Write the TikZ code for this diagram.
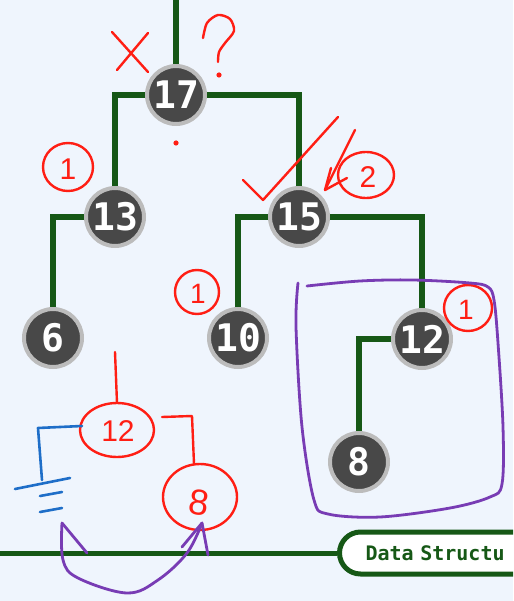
\documentclass[tikz,border=0pt]{standalone}
\usepackage{fontspec}
\setmainfont{Liberation Sans}
\newfontfamily\monofont{DejaVu Sans Mono}
\usetikzlibrary{calc}
\definecolor{bgcol}{RGB}{239,245,253}
\definecolor{treegreen}{RGB}{22,88,22}
\definecolor{nodegray}{RGB}{72,72,72}
\definecolor{rimgray}{RGB}{188,188,188}
\definecolor{inkred}{RGB}{255,30,20}
\definecolor{inkblue}{RGB}{30,110,200}
\definecolor{inkpurple}{RGB}{120,60,180}
\begin{document}
\begin{tikzpicture}[x=1pt,y=-1pt,
  tnode/.style={circle, fill=nodegray, draw=rimgray, line width=4pt, minimum size=58pt, inner sep=0pt, text=white, font=\monofont\bfseries\fontsize{38}{38}\selectfont},
  edge/.style={draw=treegreen, line width=6pt},
  redink/.style={draw=inkred, line width=2.4pt, line cap=round, line join=round},
  blueink/.style={draw=inkblue, line width=2.6pt, line cap=round, line join=round},
  purpleink/.style={draw=inkpurple, line width=2.8pt, line cap=round, line join=round},
  redtext/.style={text=inkred, inner sep=0pt, font=\fontsize{#1}{#1}\selectfont},
  dsbox/.style={draw=treegreen, line width=5pt, fill=white, rounded corners=21pt, minimum height=42pt, inner xsep=26pt, text width=200pt, align=left, text=treegreen, font=\monofont\bfseries\fontsize{20}{20}\selectfont, anchor=west}
]
\useasboundingbox (0,0) rectangle (513,601);
\clip (0,0) rectangle (513,601);
\fill[bgcol] (0,0) rectangle (513,601);

% tree nodes
\node[tnode] (n17) at (176,95) {17};
\node[tnode] (n13) at (115,217) {13};
\node[tnode] (n15) at (299,217) {15};
\node[tnode] (n6) at (53,338) {6};
\node[tnode] (n10) at (238,338) {10};
\node[tnode] (n12) at (422,339) {12};
\node[tnode] (n8) at (359,462) {8};
\coordinate (top) at (176,-5);

\draw[edge] (top) -- (n17.north);
\draw[edge] (n17.west) -| (n13.north);
\draw[edge] (n17.east) -| (n15.north);
\draw[edge] (n13.west) -| (n6.north);
\draw[edge] (n15.west) -| (n10.north);
\draw[edge] (n15.east) -| (n12.north);
\draw[edge] (n12.west) -| (n8.north);

% data structures tab
\node[dsbox] (ds) at (337,553) {Data Structu};
\coordinate (dsl) at (-5,553);
\draw[draw=treegreen, line width=5pt] (dsl) -- (ds.west);

% red marks near 17
\draw[redink] (112,32) -- (148,72);
\draw[redink] (148,33) -- (117,70);
\draw[redink] plot[smooth] coordinates {(203,38) (207,23) (218,15) (230,19) (234,31) (225,43) (219,52) (218,62)};
\fill[inkred] (219,75) circle (2.6);
\fill[inkred] (176,143) circle (2.6);

% circled 1 near 13
\draw[redink] (68,167) ellipse (25 and 24);
\node[redtext=30] (c1a) at (68,169) {1};

% check and arrow near 15
\draw[redink] (243,180) -- (263,200) -- (338,117);
\draw[redink] (355,130) -- (325,190);
\draw[redink] (331,168) -- (325,190) -- (347,178);
\draw[redink] (366,175) ellipse (28 and 23);
\node[redtext=30] (c2) at (368,177) {2};

% circled 1 near 10
\draw[redink] (197,292) ellipse (22 and 22);
\node[redtext=28] (c1b) at (198,294) {1};

% circled 1 near 12
\draw[redink] (468,308) ellipse (24 and 23);
\node[redtext=28] (c1c) at (466,310) {1};

% purple box around subtree
\draw[purpleink] plot[smooth, tension=0.55] coordinates {(307,286) (360,281) (413,280) (470,283) (488,287) (494,300) (498,343) (503,427) (502,484) (490,497) (450,508) (380,517) (328,514) (314,500) (302,427) (296,327) (298,283)};

% hand drawn small tree
\node[redtext=30] (h12) at (118,431) {12};
\draw[redink] (117,430) ellipse (37 and 27);
\draw[redink] (115,352) -- (117,403);
\draw[redink] (162,417) -- (192,416) -- (194,464);
\node[redtext=36, rotate=-8] (h8) at (199,503) {8};
\draw[redink] (200,497) ellipse (37 and 33);

% blue ground
\draw[blueink] (82,426) -- (38,428) -- (42,480);
\draw[blueink] (15,489) -- (70,478);
\draw[blueink] (40,496) -- (62,492);
\draw[blueink] (40,512) -- (62,508);

% purple swap arrow
\draw[purpleink] plot[smooth, tension=0.6] coordinates {(62,523) (63,560) (78,578) (127,593) (158,580) (187,553) (202,523)};
\draw[purpleink] (62,523) -- (87,553);
\draw[purpleink] (182,547) -- (202,523) -- (208,555);
\end{tikzpicture}
\end{document}
